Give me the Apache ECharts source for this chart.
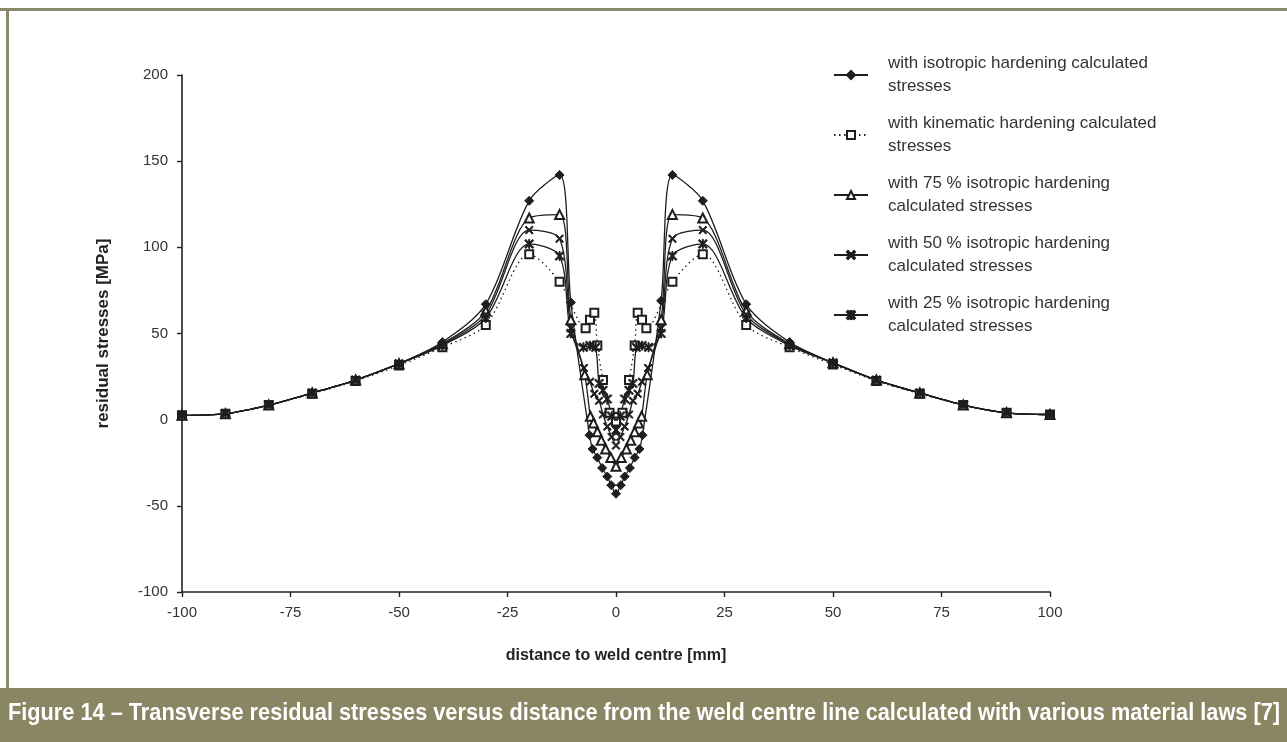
<!DOCTYPE html>
<html><head><meta charset="utf-8">
<script src="https://cdn.jsdelivr.net/npm/echarts@6/dist/echarts.min.js"></script>
<style>html,body{margin:0;padding:0;background:#fff}#c{width:1287px;height:742px}</style>
</head><body><div id="c"></div>
<script>
// ---- data ----
const seriesNames = [
  "with isotropic hardening calculated\nstresses",
  "with kinematic hardening calculated\nstresses",
  "with 75 % isotropic hardening\ncalculated stresses",
  "with 50 % isotropic hardening\ncalculated stresses",
  "with 25 % isotropic hardening\ncalculated stresses"
];
const xIso = [-100,-90,-80,-70,-60,-50,-40,-30,-20,-13,-10.4,-6.1,-5.4,-4.3,-3.2,-2,-1.1,0,1.1,2,3.2,4.3,5.4,6.1,10.4,13,20,30,40,50,60,70,80,90,100];
const yIso = [2.5,3.5,8.5,15.5,23,32.5,45,67,127,142,68,-9,-17,-22,-28,-33,-38,-43,-38,-33,-28,-22,-17,-9,69,142,127,67,45,33,23,15.5,8.5,4,3];
const xKin = [-100,-90,-80,-70,-60,-50,-40,-30,-20,-13,-7,-6,-5,-4.3,-3,-1.5,0,1.5,3,4.3,5,6,7,13,20,30,40,50,60,70,80,90,100];
const yKin = [2.5,3.5,8.5,15,22.5,31.5,42,55,96,80,53,58,62,43,23,4,-1,4,23,43,62,58,53,80,96,55,42,32,22.5,15,8.5,4,3];
const x75 = [-100,-90,-80,-70,-60,-50,-40,-30,-20,-13,-10.4,-7.2,-5.9,-5.2,-4.3,-3.4,-2.4,-1.2,0,1.2,2.4,3.4,4.3,5.2,5.9,7.2,10.4,13,20,30,40,50,60,70,80,90,100];
const y75 = [2.5,3.5,8.5,15.5,23,32.5,44,63,117,119,58,26,2,-2,-7,-12,-17,-22,-27,-22,-17,-12,-7,-2,2,26,58,119,117,63,44,33,23,15.5,8.5,4,3];
const x50 = [-100,-90,-80,-70,-60,-50,-40,-30,-20,-13,-10.4,-7.4,-6,-5,-3.9,-3,-2,-1,0,1,2,3,3.9,5,6,7.4,10.4,13,20,30,40,50,60,70,80,90,100];
const y50 = [2.5,3.5,8.5,15.5,23,32.5,43.5,61,110,105,53,30,22,15,11,3,-4,-10,-15,-10,-4,3,11,15,22,30,53,105,110,61,43.5,33,23,15.5,8.5,4,3];
const x25 = [-100,-90,-80,-70,-60,-50,-40,-30,-20,-13,-10.4,-7.5,-6,-4.7,-3.9,-3,-2,-1,0,1,2,3,3.9,4.7,6,7.5,10.4,13,20,30,40,50,60,70,80,90,100];
const y25 = [2.5,3.5,8.5,15.5,23,32.5,43,59,102,95,50,42,43,42,21,17,12,2,-6,2,12,17,21,42,43,42,50,95,102,59,43,33,23,15.5,8.5,4,3];
const xAxisRange = [-100, 100, 25];
const yAxisRange = [-100, 200, 50];
const caption = "Figure 14 \u2013 Transverse residual stresses versus distance from the weld centre line calculated with various material laws [7]";

function zip(xs, ys){ return xs.map((x,i)=>[x, ys[i]]); }

const crossPath = 'path://M0,0.12L0.12,0L0.5,0.38L0.88,0L1,0.12L0.62,0.5L1,0.88L0.88,1L0.5,0.62L0.12,1L0,0.88L0.38,0.5Z';
const starPath = 'path://M0,0.12L0.12,0L0.5,0.38L0.88,0L1,0.12L0.62,0.5L1,0.88L0.88,1L0.5,0.62L0.12,1L0,0.88L0.38,0.5ZM0.44,0L0.56,0L0.56,1L0.44,1Z';

const lineCol = '#1e1e1e';
function mk(name, data, symbol, size, dotted){
  return {
    name, type:'line', data, smooth:0.3, symbol, symbolSize:size,
    showAllSymbol:true,
    lineStyle:{color:lineCol, width:1.3, type: dotted ? [1.5,3.5] : 'solid'},
    itemStyle:{color:lineCol, borderColor:lineCol, borderWidth:1},
    emphasis:{disabled:true}, z: 2
  };
}

const font = '"Liberation Sans", Arial, sans-serif';
const capFont = 'bold 24px "Liberation Sans", Arial, sans-serif';
const mctx = document.createElement('canvas').getContext('2d');
mctx.font = capFont;
const capScale = 1272 / mctx.measureText(caption).width;

const chart = echarts.init(document.getElementById('c'), null, {renderer:'canvas'});
chart.setOption({
  animation:false,
  backgroundColor:'#fff',
  textStyle:{fontFamily:font},
  grid:{left:182, right:237, top:75, bottom:150, containLabel:false},
  xAxis:{
    type:'value', min:xAxisRange[0], max:xAxisRange[1], interval:xAxisRange[2],
    name:'distance to weld centre [mm]', nameLocation:'middle', nameGap:56,
    nameTextStyle:{fontSize:16, fontWeight:'bold', color:'#222', fontFamily:font},
    axisLine:{onZero:false, lineStyle:{color:'#222', width:1.6}},
    axisTick:{inside:false, length:5, lineStyle:{color:'#222', width:1.4}},
    axisLabel:{fontSize:15, color:'#333', margin:13, fontFamily:font},
    splitLine:{show:false}
  },
  yAxis:{
    type:'value', min:yAxisRange[0], max:yAxisRange[1], interval:yAxisRange[2],
    name:'residual stresses [MPa]', nameLocation:'middle', nameGap:70,
    nameTextStyle:{fontSize:17, fontWeight:'bold', color:'#222', fontFamily:font},
    axisLine:{show:true, onZero:false, lineStyle:{color:'#222', width:1.6}},
    axisTick:{show:true, inside:false, length:5, lineStyle:{color:'#222', width:1.4}},
    axisLabel:{fontSize:15, color:'#333', margin:14, fontFamily:font},
    splitLine:{show:false}
  },
  legend:{
    orient:'vertical', left:828, top:47, itemWidth:34, itemHeight:10, itemGap:14,
    selectedMode:false,
    textStyle:{fontSize:17, color:'#333', lineHeight:23, fontFamily:font, padding:[0,0,0,15]},
    data:seriesNames
  },
  series:[
    mk(seriesNames[0], zip(xIso,yIso), 'diamond', 9, false),
    mk(seriesNames[1], zip(xKin,yKin), 'emptyRect', 8, true),
    mk(seriesNames[2], zip(x75,y75), 'emptyTriangle', 9, false),
    mk(seriesNames[3], zip(x50,y50), crossPath, 8, false),
    mk(seriesNames[4], zip(x25,y25), starPath, 9, false)
  ],
  graphic:[
    {type:'rect', shape:{x:0, y:8, width:1287, height:3}, style:{fill:'#8b8a68'}, silent:true},
    {type:'rect', shape:{x:6, y:8, width:3, height:690}, style:{fill:'#8b8a68'}, silent:true},
    {type:'rect', shape:{x:0, y:688, width:1287, height:54}, style:{fill:'#8a8563'}, silent:true},
    {type:'text', x:8, y:713, scaleX:capScale, silent:true,
      style:{text:caption, fill:'#fff', font:capFont, verticalAlign:'middle', align:'left'}}
  ]
});
</script></body></html>
